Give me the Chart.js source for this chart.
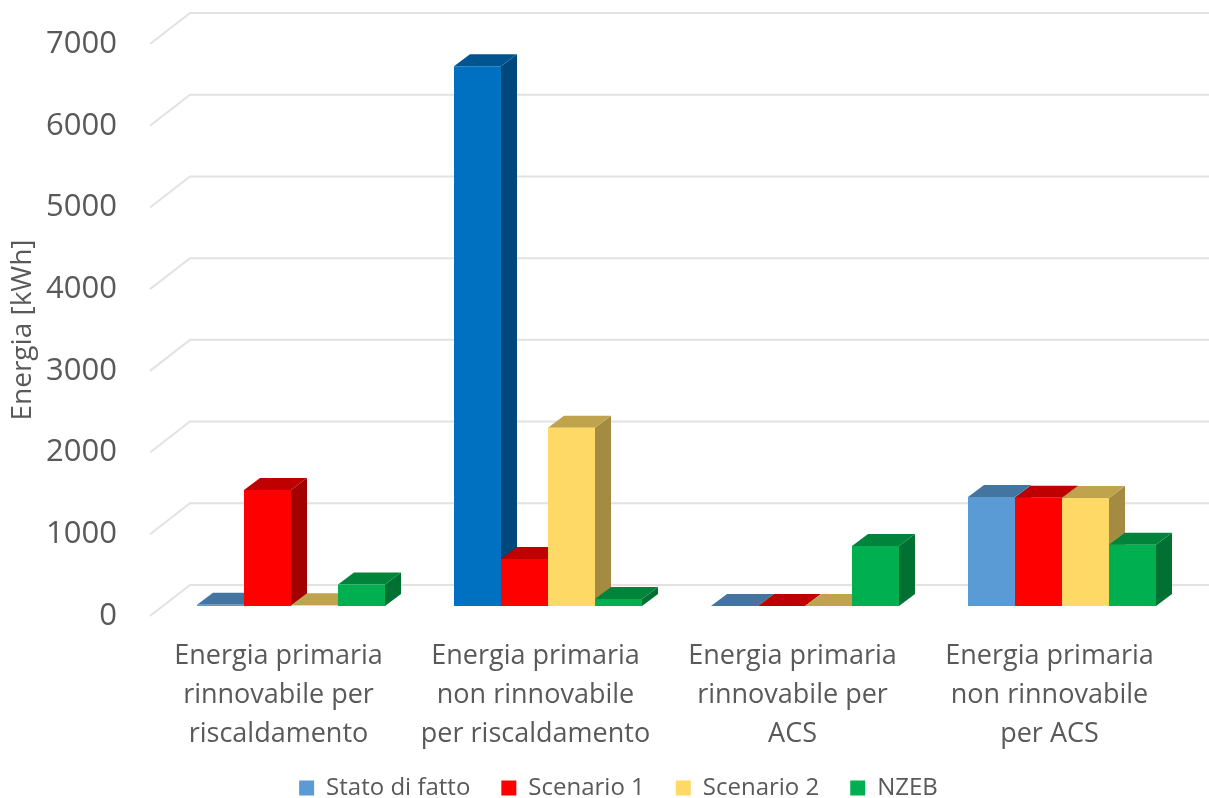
<!DOCTYPE html>
<html>
<head>
<meta charset="utf-8">
<title>Energia</title>
<script src="https://cdn.jsdelivr.net/npm/chart.js@4/dist/chart.umd.min.js"></script>
<style>
html, body { margin: 0; padding: 0; background: #fff; }
canvas { display: block; }
</style>
</head>
<body>
<canvas id="myChart" width="1209" height="798"></canvas>
<script>
var categories = [
	['Energia primaria', 'rinnovabile per', 'riscaldamento'],
	['Energia primaria', 'non rinnovabile', 'per riscaldamento'],
	['Energia primaria', 'rinnovabile per', 'ACS'],
	['Energia primaria', 'non rinnovabile', 'per ACS']
];
var statoDiFatto = [15, 6605, 0, 1335];
var scenario1 = [1420, 575, 0, 1325];
var scenario2 = [10, 2180, 0, 1322];
var nzeb = [263, 85, 735, 750];
var yTicks = [0, 1000, 2000, 3000, 4000, 5000, 6000, 7000];

var textColor = '#595959';
var fontName = '"Open Sans", "Noto Sans", sans-serif';

// bars stand inside the floor: shifted from the front plane of the axes
var barShift = { x: 12.5, y: -10 };
var barDepth = { x: 16, y: -12 };
var wallDepth = { x: 40, y: -31 };

function shade(hex, factor) {
	var r = parseInt(hex.substr(1, 2), 16);
	var g = parseInt(hex.substr(3, 2), 16);
	var b = parseInt(hex.substr(5, 2), 16);
	return 'rgb(' + Math.round(r * factor) + ',' + Math.round(g * factor) + ',' + Math.round(b * factor) + ')';
}

function polygon(ctx, pts, color) {
	ctx.fillStyle = color;
	ctx.beginPath();
	ctx.moveTo(pts[0][0], pts[0][1]);
	for (var i = 1; i < pts.length; i++) {
		ctx.lineTo(pts[i][0], pts[i][1]);
	}
	ctx.closePath();
	ctx.fill();
}

var wallPlugin = {
	id: 'wall',
	afterLayout: function(chart) {
		// the legend sits lower and further right than the layout puts it
		var legend = chart.legend;
		legend.left += 29.5;
		legend.right += 29.5;
		legend.top += 12;
		legend.bottom += 12;
		// x labels are clipped to the scale box, third line needs the room
		chart.scales.x.bottom = chart.height;
	},
	beforeDatasetsDraw: function(chart) {
		var ctx = chart.ctx;
		var yScale = chart.scales.y;
		var area = chart.chartArea;
		ctx.save();
		ctx.strokeStyle = '#E2E2E2';
		ctx.lineWidth = 2;
		yScale.ticks.forEach(function(tick) {
			var y = yScale.getPixelForValue(tick.value);
			ctx.beginPath();
			ctx.moveTo(area.left, y);
			ctx.lineTo(area.left + wallDepth.x, y + wallDepth.y);
			ctx.lineTo(area.right + wallDepth.x, y + wallDepth.y);
			ctx.stroke();
		});
		ctx.restore();
	}
};

// draws left to right so that a later bar covers the side of the one before it
var box3dPlugin = {
	id: 'box3d',
	beforeDatasetsDraw: function(chart) {
		var ctx = chart.ctx;
		chart.getSortedVisibleDatasetMetas().forEach(function(meta) {
			var colors = chart.data.datasets[meta.index].backgroundColor;
			ctx.save();
			ctx.translate(barShift.x, barShift.y);
			meta.data.forEach(function(bar, i) {
				var color = colors[i];
				var l = bar.x - bar.width / 2;
				var r = bar.x + bar.width / 2;
				var dx = barDepth.x;
				var dy = barDepth.y;
				if (bar.base - bar.y > 1) {
					polygon(ctx, [[r, bar.y], [r + dx, bar.y + dy], [r + dx, bar.base + dy], [r, bar.base]], shade(color, 0.64));
				}
				polygon(ctx, [[l, bar.y], [l + dx, bar.y + dy], [r + dx, bar.y + dy], [r, bar.y]], shade(color, 0.75));
			});
			meta.controller.draw();
			ctx.restore();
		});
		return false;
	}
};

var ctx = document.getElementById('myChart').getContext('2d');
var myChart = new Chart(ctx, {
	type: 'bar',
	data: {
		labels: categories,
		datasets: [
			{ label: 'Stato di fatto', data: statoDiFatto, backgroundColor: ['#5B9BD5', '#0070C0', '#5B9BD5', '#5B9BD5'] },
			{ label: 'Scenario 1', data: scenario1, backgroundColor: ['#FF0000', '#FF0000', '#FF0000', '#FF0000'] },
			{ label: 'Scenario 2', data: scenario2, backgroundColor: ['#FFD966', '#FFD966', '#FFD966', '#FFD966'] },
			{ label: 'NZEB', data: nzeb, backgroundColor: ['#00B050', '#00B050', '#00B050', '#00B050'] }
		]
	},
	plugins: [wallPlugin, box3dPlugin],
	options: {
		responsive: false,
		animation: false,
		layout: { padding: { top: 44, right: 31, left: 0, bottom: 0 } },
		datasets: { bar: { categoryPercentage: 0.7315, barPercentage: 1 } },
		scales: {
			x: {
				grid: { display: false, drawTicks: false },
				border: { display: false },
				ticks: {
					maxRotation: 0,
					autoSkip: false,
					padding: 21,
					color: textColor,
					font: { family: fontName, size: 27, lineHeight: 1.44 }
				},
				afterFit: function(scale) { scale.height = 117; }
			},
			y: {
				min: 0,
				max: 7000,
				afterBuildTicks: function(scale) {
					scale.ticks = yTicks.map(function(v) { return { value: v }; });
				},
				grid: { display: false, drawTicks: false },
				border: { display: false },
				ticks: {
					padding: 33,
					color: textColor,
					font: { family: fontName, size: 31 },
					callback: function(value) { return String(value); }
				},
				title: {
					display: true,
					text: 'Energia [kWh]',
					color: textColor,
					padding: { top: 6, bottom: 0 },
					font: { family: fontName, size: 28 }
				},
				afterFit: function(scale) {
					scale.width = 150;
					scale.paddingTop = 0;
					scale.paddingBottom = 0;
				}
			}
		},
		plugins: {
			tooltip: { enabled: false },
			legend: {
				position: 'bottom',
				labels: {
					boxWidth: 15,
					boxHeight: 15,
					padding: 31,
					color: textColor,
					font: { family: fontName, size: 24 },
					generateLabels: function(chart) {
						return chart.data.datasets.map(function(ds, i) {
							return {
								text: ds.label,
								fillStyle: ds.backgroundColor[0],
								strokeStyle: ds.backgroundColor[0],
								lineWidth: 0,
								fontColor: textColor,
								datasetIndex: i
							};
						});
					}
				}
			}
		}
	}
});
</script>
</body>
</html>
